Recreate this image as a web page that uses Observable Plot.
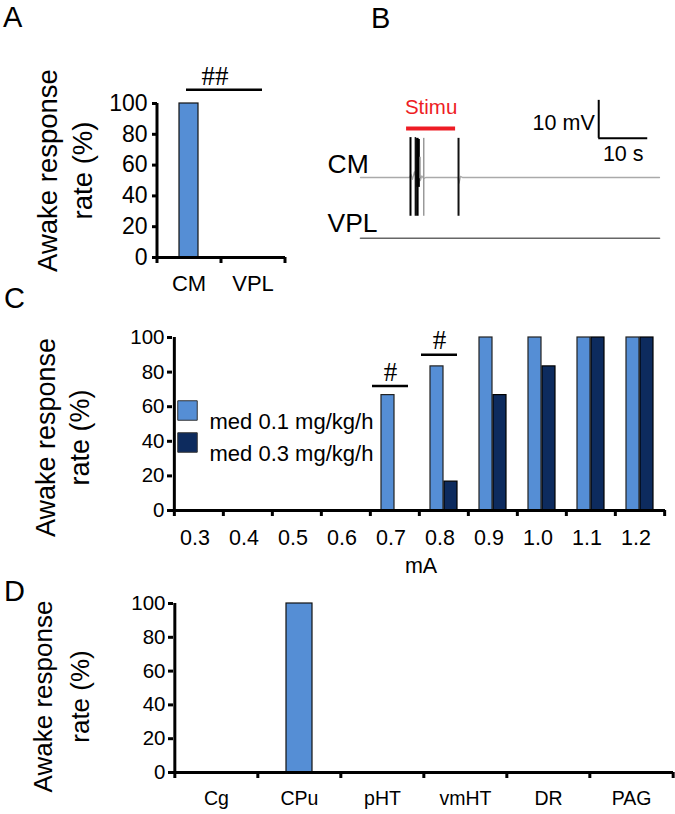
<!DOCTYPE html>
<html><head><meta charset="utf-8">
<script src="https://cdn.jsdelivr.net/npm/d3@7"></script>
<script src="https://cdn.jsdelivr.net/npm/@observablehq/plot@0.6"></script>
<style>
body{margin:0;background:#fff;}
#fig{position:relative;width:675px;height:814px;overflow:hidden;background:#fff;font-family:"Liberation Sans",Arial,sans-serif;}
.panel{position:absolute;}
.letter{position:absolute;font-size:29px;line-height:1;color:#000;font-family:"Liberation Sans",Arial,sans-serif;}
</style></head><body><div id="fig"></div>
<script>
// ---------- data ----------
const yTicks = [0, 20, 40, 60, 80, 100];
const yTitleLines = ["Awake response", "rate (%)"];

// Panel A
const regionsA = ["CM", "VPL"];
const ratesA = [100, 0];
const sigA = [{from: "CM", to: "VPL", y: 109, label: "##"}];

// Panel B (trace, time in s, potential in mV)
const cmTrace = [[0,0],[10.0,0],[10.3,0.8],[10.6,-0.5],[11.0,1.5],[11.4,-0.6],[11.9,2.0],[12.2,-0.8],[12.5,0.4],[12.9,-0.3],[13.3,0],[19.9,0],[20.1,-1.5],[20.4,0.3],[20.8,0],[61,0]];
const vplTrace = [[0,-16],[61,-16]];
const spikeT = [10.2, 11.2, 11.6, 11.75, 12.1, 12.9, 20.0];
const spikeLo = [-10.2, -10.2, -10.2, -2.6, -0.3, -10.2, -10.2];
const spikeHi = [10.5, 10.5, 10.3, 10.0, 5.3, 10.3, 10.3];
const spikeShade = ["#000", "#111", "#000", "#000", "#777", "#999", "#111"];
const spikeW = [2, 1.5, 2.5, 3.5, 1.5, 1.5, 2];
const stim = {start: 9.4, end: 19.4, level: 12.9, label: "Stimu"};
const scaleBar = {t0: 48.6, v0: 10.3, dt: 10, dv: 10, tLabel: "10 s", vLabel: "10 mV"};
const traceLabels = [{name: "CM", v: 3.4}, {name: "VPL", v: -12.1}];

// Panel C
const currents = ["0.3","0.4","0.5","0.6","0.7","0.8","0.9","1.0","1.1","1.2"];
const seriesC = ["med 0.1 mg/kg/h", "med 0.3 mg/kg/h"];
const ratesLow = [0, 0, 0, 0, 66.7, 83.3, 100, 100, 100, 100];
const ratesHigh = [0, 0, 0, 0, 0, 16.7, 66.7, 83.3, 100, 100];
const sigC = [{mA: "0.7", y: 72, label: "#"}, {mA: "0.8", y: 90, label: "#"}];

// Panel D
const regionsD = ["Cg", "CPu", "pHT", "vmHT", "DR", "PAG"];
const ratesD = [0, 100, 0, 0, 0, 0];

// ---------- styling ----------
const light = "#558ED5", dark = "#0D2B5E";
const FONT = '"Liberation Sans", Arial, sans-serif';
const baseStyle = {fontFamily: FONT, background: "transparent", overflow: "visible", color: "#000"};
const fig = document.getElementById("fig");
const ctx = document.createElement("canvas").getContext("2d");
function textWidth(s, size) { ctx.font = `${size}px "Liberation Sans", Arial, sans-serif`; return ctx.measureText(s).width; }
function place(el, left, top) {
  el.classList.add("panel");
  el.style.left = left + "px"; el.style.top = top + "px";
  fig.appendChild(el);
}
function letter(t, left, top) {
  const d = document.createElement("div");
  d.className = "letter"; d.textContent = t;
  d.style.left = left + "px"; d.style.top = top + "px";
  fig.appendChild(d);
}
// axis line + boundary tick marks for a band x scale
function bandFrame(cats, step) {
  return [
    Plot.ruleY([0], {strokeWidth: 3}),
    Plot.ruleX([cats[0]], {x: d => d, dx: -step / 2, y1: 0, y2: 100, strokeWidth: 3}),
    Plot.ruleX(cats, {x: d => d, dx: -step / 2, y1: 0, y2: 0, insetBottom: -6, strokeWidth: 3}),
    Plot.ruleX([cats[cats.length - 1]], {x: d => d, dx: step / 2, y1: 0, y2: 0, insetBottom: -6, strokeWidth: 3})
  ];
}
// two-line rotated y title: x1/x2 line centres (relative to frame left), cy centre shift from frame middle
function titleMarks(x1, x2, cy, size) {
  return yTitleLines.map((line, i) =>
    Plot.text([line], {frameAnchor: "left", rotate: -90, dx: i ? x2 : x1, dy: cy + textWidth(line, size) / 2, fontSize: size}));
}

// ---------- Panel A ----------
{
  const W = 300, H = 290, ml = 157, mr = 15, mt = 103, mb = 33;
  const step = (W - ml - mr) / regionsA.length;
  const data = regionsA.map((r, i) => ({region: r, rate: ratesA[i]}));
  const p = Plot.plot({
    width: W, height: H, marginLeft: ml, marginRight: mr, marginTop: mt, marginBottom: mb,
    style: baseStyle,
    x: {domain: regionsA, paddingInner: 0.7, paddingOuter: 0.35},
    y: {domain: [0, 100]},
    marks: [
      Plot.barY(data.filter(d => d.rate > 0), {x: "region", y: "rate", fill: light, stroke: "#111", strokeWidth: 1.2}),
      Plot.axisY(yTicks, {tickSize: 5, tickPadding: 5, fontSize: 23, strokeWidth: 3, label: null}),
      Plot.axisX({tickSize: 0, tickPadding: 18, fontSize: 22, label: null}),
      ...bandFrame(regionsA, step),
      Plot.ruleY(sigA, {x1: "from", x2: "to", y: "y", strokeWidth: 2.5, insetLeft: 7}),
      Plot.text(sigA, {x: d => regionsA[0], y: "y", text: "label", dx: step / 2 - 6, dy: -13, fontSize: 27, fontFamily: '"Liberation Serif", serif'}),
      ...titleMarks(-109, -74, -10, 27.5)
    ]
  });
  place(p, 0, 0);
}

// ---------- Panel B ----------
{
  const W = 375, H = 290;
  const spikes = spikeT.map((t, i) => ({t, lo: spikeLo[i], hi: spikeHi[i], c: spikeShade[i], w: spikeW[i]}));
  const p = Plot.plot({
    width: W, height: H, marginLeft: 60, marginRight: 16, marginTop: 63, marginBottom: 18,
    style: baseStyle,
    x: {domain: [0, 61], axis: null},
    y: {domain: [-25, 30], axis: null},
    marks: [
      Plot.line(cmTrace, {x: d => d[0], y: d => d[1], stroke: "#aaa", strokeWidth: 1.3}),
      Plot.line(vplTrace, {x: d => d[0], y: d => d[1], stroke: "#666", strokeWidth: 1.6}),
      Plot.ruleX(spikes, {x: "t", y1: "lo", y2: "hi", stroke: "c", strokeWidth: "w"}),
      Plot.ruleY([stim], {x1: "start", x2: "end", y: "level", stroke: "#ee1c24", strokeWidth: 4}),
      Plot.text([stim], {x: d => (d.start + d.end) / 2, y: d => d.level + 5.5, text: "label", fill: "#ee1c24", fontSize: 20.5}),
      Plot.ruleX([scaleBar], {x: "t0", y1: "v0", y2: d => d.v0 + d.dv, strokeWidth: 2}),
      Plot.ruleY([scaleBar], {x1: "t0", x2: d => d.t0 + d.dt, y: "v0", strokeWidth: 2}),
      Plot.text([scaleBar], {x: "t0", y: d => d.v0 + d.dv * 0.39, text: "vLabel", textAnchor: "end", dx: -4, fontSize: 21.5}),
      Plot.text([scaleBar], {x: d => d.t0 + d.dt / 2, y: "v0", text: "tLabel", dy: 16, fontSize: 21.5}),
      Plot.text(traceLabels, {x: 0, y: "v", text: "name", textAnchor: "start", dx: -33, fontSize: 26.5})
    ]
  });
  place(p, 300, 0);
  letter("B", 371, 4);
}

// ---------- Panel C ----------
{
  const W = 675, H = 290, ml = 172, mr = 10, mt = 47, mb = 70;
  const step = (W - ml - mr) / currents.length;
  const low = currents.map((c, i) => ({mA: c, rate: ratesLow[i]}));
  const high = currents.map((c, i) => ({mA: c, rate: ratesHigh[i]}));
  const p = Plot.plot({
    width: W, height: H, marginLeft: ml, marginRight: mr, marginTop: mt, marginBottom: mb,
    style: baseStyle,
    x: {domain: currents, padding: 0},
    y: {domain: [0, 100]},
    marks: [
      Plot.barY(low.filter(d => d.rate > 0), {x: "mA", y: "rate", fill: light, stroke: "#222", strokeWidth: 1.2, insetLeft: 11, insetRight: 25}),
      Plot.barY(high.filter(d => d.rate > 0), {x: "mA", y: "rate", fill: dark, stroke: "#000", strokeWidth: 1.2, insetLeft: 25, insetRight: 11}),
      Plot.axisY(yTicks, {tickSize: 5, tickPadding: 3, fontSize: 20.5, strokeWidth: 3, label: null}),
      Plot.axisX({tickSize: 0, tickPadding: 19, fontSize: 21.5, dx: -4, label: null}),
      ...bandFrame(currents, step),
      Plot.ruleY(sigC, {x1: "mA", x2: "mA", y: "y", strokeWidth: 2.5, insetLeft: 2, insetRight: 11}),
      Plot.text(sigC, {x: "mA", y: "y", text: "label", dx: -4.5, dy: -14, fontSize: 27, fontFamily: '"Liberation Serif", serif'}),
      Plot.text(["mA"], {frameAnchor: "bottom", dy: 62, dx: 2, fontSize: 21.5}),
      ...seriesC.map((s, i) => Plot.dot([s], {frameAnchor: "top-left", dx: 15, dy: 73 + 32 * i, symbol: "square", r: 11, fill: i ? dark : light, stroke: "#333", strokeWidth: 1})),
      ...seriesC.map((s, i) => Plot.text([s], {frameAnchor: "top-left", dx: 37, dy: 76 + 32 * i, textAnchor: "start", fontSize: 22})),
      ...titleMarks(-126, -92, 13.5, 27)
    ]
  });
  place(p, 0, 290);
}

// ---------- Panel D ----------
{
  const W = 675, H = 234, ml = 173, mr = 2, mt = 23, mb = 42;
  const step = (W - ml - mr) / regionsD.length;
  const data = regionsD.map((r, i) => ({region: r, rate: ratesD[i]}));
  const p = Plot.plot({
    width: W, height: H, marginLeft: ml, marginRight: mr, marginTop: mt, marginBottom: mb,
    style: baseStyle,
    x: {domain: regionsD, paddingInner: 0.69, paddingOuter: 0.345},
    y: {domain: [0, 100]},
    marks: [
      Plot.barY(data.filter(d => d.rate > 0), {x: "region", y: "rate", fill: light, stroke: "#111", strokeWidth: 1.2}),
      Plot.axisY(yTicks, {tickSize: 5, tickPadding: 3, fontSize: 20.5, strokeWidth: 3, label: null}),
      Plot.axisX({tickSize: 0, tickPadding: 19, fontSize: 19.5, label: null}),
      ...bandFrame(regionsD, step),
      ...titleMarks(-130, -93, 8.5, 26)
    ]
  });
  place(p, 0, 580);
}

letter("A", 3, 3);
letter("C", 4, 284);
letter("D", 4, 577);
</script></body></html>
